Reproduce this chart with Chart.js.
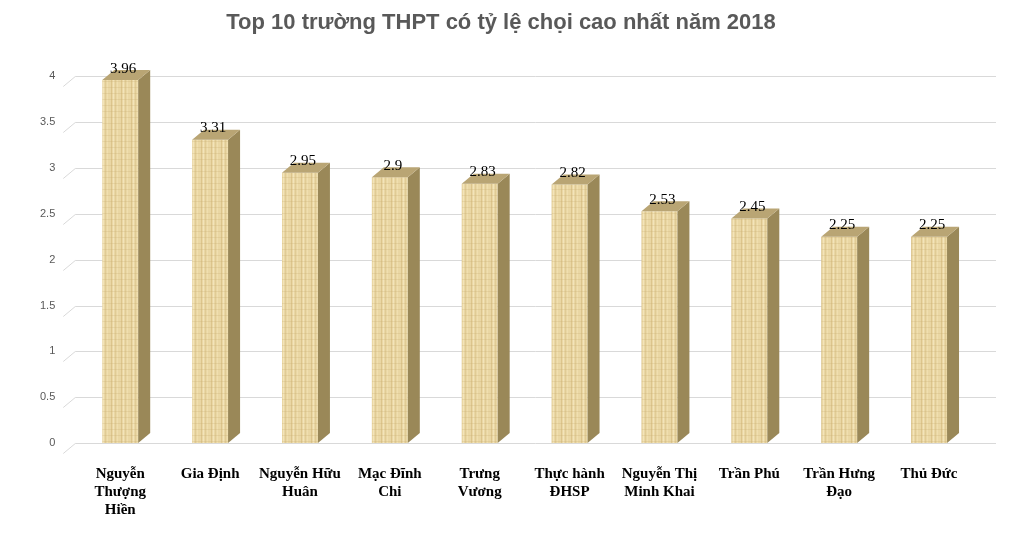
<!DOCTYPE html>
<html>
<head>
<meta charset="utf-8">
<script src="https://cdn.jsdelivr.net/npm/chart.js@4"></script>
<style>
  body { margin: 0; background: #fff; }
  #wrap { width: 1020px; height: 533px; }
</style>
</head>
<body>
<div id="wrap"><canvas id="c"></canvas></div>
<script>
const schools = [
  ["Nguyễn", "Thượng", "Hiền"], "Gia Định", ["Nguyễn Hữu", "Huân"], ["Mạc Đĩnh", "Chi"],
  ["Trưng", "Vương"], ["Thực hành", "ĐHSP"], ["Nguyễn Thị", "Minh Khai"], "Trần Phú",
  ["Trần Hưng", "Đạo"], "Thủ Đức"
];
const ratios = [3.96, 3.31, 2.95, 2.9, 2.83, 2.82, 2.53, 2.45, 2.25, 2.25];
const labelsText = ["3.96", "3.31", "2.95", "2.9", "2.83", "2.82", "2.53", "2.45", "2.25", "2.25"];

const DX = 12, DY = 10;

// wood-ish texture
const pc = document.createElement('canvas');
pc.width = 10; pc.height = 6;
const p = pc.getContext('2d');
p.fillStyle = '#ead7a4'; p.fillRect(0, 0, 10, 6);
['#dcc48c', '#f3e4ba', '#e0cb95', '#f0dfb0'].forEach((c, i) => {
  p.fillStyle = c; p.fillRect(i * 2 + 1, 0, 1, 6);
});
p.fillStyle = 'rgba(200,170,110,0.25)'; p.fillRect(0, 3, 10, 1);
const pattern = p.createPattern(pc, 'repeat');

const threeD = {
  id: 'threeD',
  beforeDatasetsDraw(chart) {
    const { ctx, chartArea, scales } = chart;
    ctx.save();
    ctx.strokeStyle = '#d9d9d9';
    ctx.lineWidth = 1;
    for (let v = 0; v <= 4; v += 0.5) {
      const y = Math.round(scales.y.getPixelForValue(v)) + 0.5;
      ctx.beginPath();
      ctx.moveTo(chartArea.left - DX, y + DY);
      ctx.lineTo(chartArea.left, y);
      ctx.lineTo(chartArea.right + DX + 10, y);
      ctx.stroke();
    }
    ctx.restore();
  },
  afterDatasetsDraw(chart) {
    const { ctx } = chart;
    const meta = chart.getDatasetMeta(0);
    ctx.save();
    meta.data.forEach((bar, i) => {
      const l = bar.x - bar.width / 2, r = bar.x + bar.width / 2;
      const t = bar.y, b = bar.base;
      ctx.fillStyle = '#9a8858';
      ctx.beginPath();
      ctx.moveTo(r, t); ctx.lineTo(r + DX, t - DY); ctx.lineTo(r + DX, b - DY); ctx.lineTo(r, b);
      ctx.closePath(); ctx.fill();
      ctx.fillStyle = '#b9a574';
      ctx.beginPath();
      ctx.moveTo(l, t); ctx.lineTo(l + DX, t - DY); ctx.lineTo(r + DX, t - DY); ctx.lineTo(r, t);
      ctx.closePath(); ctx.fill();
      ctx.fillStyle = '#000';
      ctx.font = '15px "Liberation Serif"';
      ctx.textAlign = 'center';
      ctx.textBaseline = 'bottom';
      ctx.fillText(labelsText[i], bar.x + 3, t - 4);
    });
    ctx.restore();
  }
};

new Chart(document.getElementById('c'), {
  type: 'bar',
  data: {
    labels: schools,
    datasets: [{
      data: ratios,
      backgroundColor: pattern,
      borderWidth: 0,
      barPercentage: 0.8,
      categoryPercentage: 0.5
    }]
  },
  options: {
    responsive: true,
    maintainAspectRatio: false,
    animation: false,
    layout: { padding: { left: 28, right: 46, top: 10, bottom: 0 } },
    plugins: {
      legend: { display: false },
      tooltip: { enabled: false },
      title: {
        display: true,
        text: 'Top 10 trường THPT có tỷ lệ chọi cao nhất năm 2018',
        color: '#595959',
        font: { family: 'Liberation Sans', size: 22, weight: 'bold' },
        padding: { top: 0, bottom: 40 }
      }
    },
    scales: {
      y: {
        min: 0, max: 4,
        ticks: { stepSize: 0.5, color: '#595959', font: { family: 'Liberation Sans', size: 11 }, padding: 12,
          callback: v => String(v) },
        grid: { display: false },
        border: { display: false }
      },
      x: {
        ticks: { color: '#000', font: { family: 'Liberation Serif', size: 15, weight: 'bold' }, maxRotation: 0, autoSkip: false, padding: 14 },
        grid: { display: false },
        border: { display: false }
      }
    }
  },
  plugins: [threeD]
});
</script>
</body>
</html>
